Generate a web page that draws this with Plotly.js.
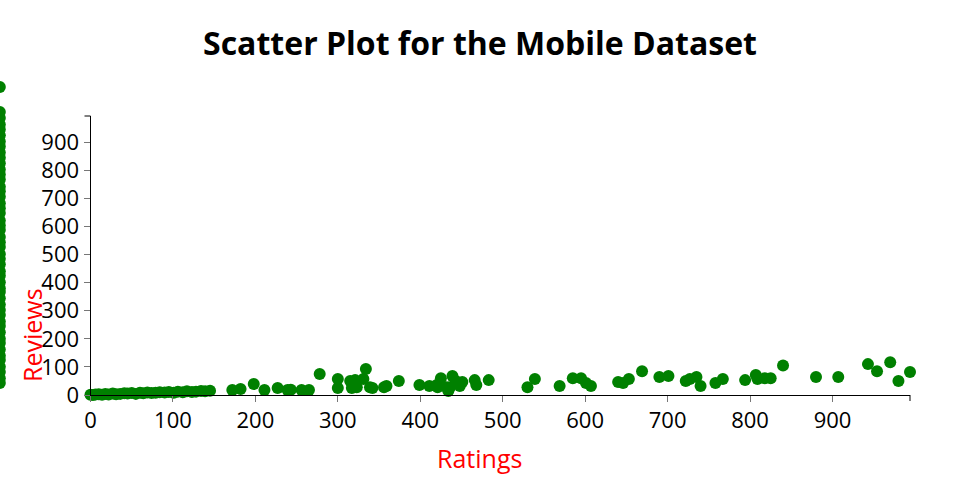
<!DOCTYPE html>
<html>
<head>
<meta charset="utf-8">
<script src="https://cdn.plot.ly/plotly-3.0.1.min.js"></script>
<style>html,body{margin:0;padding:0;background:#fff;}#chart{width:960px;height:500px;}</style>
</head>
<body>
<div id="chart"></div>
<script>
// Main cluster: Ratings (x) vs Reviews (y)
const ratings = [0,3,6,10,14,18,22,27,31,36,41,45,50,55,60,64,69,74,79,84,90,95,101,106,112,117,123,128,134,139,145,
  172,182,198,211,227,239,243,256,265,278,300,300,315,317,321,323,334,331,339,342,356,359,374,399,411,420,425,421,432,434,439,436,443,448,451,466,468,483,
  530,539,569,585,595,601,607,640,646,653,669,690,701,722,727,735,740,758,767,794,807,809,818,825,840,880,907,943,954,970,980,994];
const reviews = [1,0,2,3,1,4,2,5,3,4,6,5,7,4,8,6,9,7,8,10,9,11,8,12,10,13,11,12,14,13,15,
  18,21,39,18,25,18,19,18,18,75,57,25,50,25,53,28,93,57,28,25,28,32,50,36,32,36,60,28,28,14,68,28,50,32,46,53,36,53,
  28,57,32,60,60,43,32,46,43,57,85,64,68,50,57,64,32,43,57,53,71,57,60,60,105,64,64,110,85,117,50,82];

// Stray records drawn at the far left edge of the reference
const strayRatings = [-110,-110,-110,-110,-110,-110,-110,-110,-110,-110,-110,-110,-110,-110,-110,-110,-110,-110,-110,-110,-110,-110,-110,-110,-110,-110,-110,-110,-110,-110,-110,-110,-110,-110,-110,-110,-110,-110,-110,-110,-110,-110,-110,-110,-110,-110,-110,-110,-110,-110];
const strayReviews = [43,60,82,101,125,140,162,185,200,224,246,262,285,303,322,345,367,380,402,425,441,466,485,502,527,544,563,588,604,622,648,665,683,706,726,742,768,786,803,826,845,864,885,903,925,946,964,987,1008,1097];

const tickVals = [0,100,200,300,400,500,600,700,800,900];
const xRange = [0, 994];
const yRange = [0, 994];

// layout geometry (pixels)
const W = 960, H = 500, L = 90.5, R = 910, T = 116, B = 395;
const kx = (R - L) / (xRange[1] - xRange[0]);
const ky = (B - T) / (yRange[1] - yRange[0]);
const x2Range = [xRange[0] - L / kx, xRange[1] + (W - R) / kx];
const y2Range = [yRange[0] - (H - B) / ky, yRange[1] + T / ky];

const green = '#008000';
const fnt = 'Open Sans, sans-serif';

const axisBase = {
  showline: true, linecolor: '#000', linewidth: 1,
  ticks: 'outside', ticklen: 6, tickcolor: '#777', tickwidth: 1,
  tickmode: 'array', tickvals: tickVals,
  showgrid: false, zeroline: false, fixedrange: true,
  tickfont: {family: fnt, size: 22, color: '#000'}
};

const data = [
  {type: 'scatter', mode: 'markers', x: ratings, y: reviews, xaxis: 'x', yaxis: 'y',
   marker: {color: green, size: 12, line: {width: 0}}, cliponaxis: false, hoverinfo: 'x+y'},
  {type: 'scatter', mode: 'markers', x: strayRatings, y: strayReviews, xaxis: 'x2', yaxis: 'y2',
   marker: {color: green, size: 12, line: {width: 0}}, hoverinfo: 'x+y'}
];

const layout = {
  width: W, height: H, autosize: false,
  margin: {l: 0, r: 0, t: 0, b: 0, pad: 0},
  paper_bgcolor: '#fff', plot_bgcolor: 'rgba(0,0,0,0)',
  showlegend: false,
  font: {family: fnt, color: '#000'},
  title: {text: 'Scatter Plot for the Mobile Dataset', x: 0.5, xanchor: 'center', xref: 'paper',
          y: 1 - 44 / H, yanchor: 'middle', yref: 'paper',
          font: {family: fnt, size: 32, weight: 'bold', color: '#000'}},
  xaxis: Object.assign({}, axisBase, {domain: [L / W, R / W], range: xRange, anchor: 'y'}),
  yaxis: Object.assign({}, axisBase, {domain: [(H - B) / H, (H - T) / H], range: yRange, anchor: 'x'}),
  xaxis2: {domain: [0, 1], range: x2Range, anchor: 'y2', visible: false, fixedrange: true},
  yaxis2: {domain: [0, 1], range: y2Range, anchor: 'x2', visible: false, fixedrange: true},
  shapes: [
    {type: 'line', xref: 'paper', yref: 'paper', x0: (L - 6) / W, x1: L / W, y0: (H - T) / H, y1: (H - T) / H, line: {color: '#000', width: 1}},
    {type: 'line', xref: 'paper', yref: 'paper', x0: R / W, x1: R / W, y0: (H - B) / H, y1: (H - B - 6) / H, line: {color: '#000', width: 1}}
  ],
  annotations: [
    {text: 'Ratings', xref: 'paper', yref: 'paper', x: 479.5 / W, y: (H - 458) / H, xanchor: 'center', yanchor: 'middle',
     showarrow: false, font: {family: fnt, size: 25, color: 'red'}},
    {text: 'Reviews', xref: 'paper', yref: 'paper', x: 32 / W, y: (H - 335) / H, xanchor: 'center', yanchor: 'middle',
     textangle: -90, showarrow: false, font: {family: fnt, size: 25, color: 'red'}}
  ]
};

Plotly.newPlot('chart', data, layout, {displayModeBar: false, staticPlot: true});
</script>
</body>
</html>
